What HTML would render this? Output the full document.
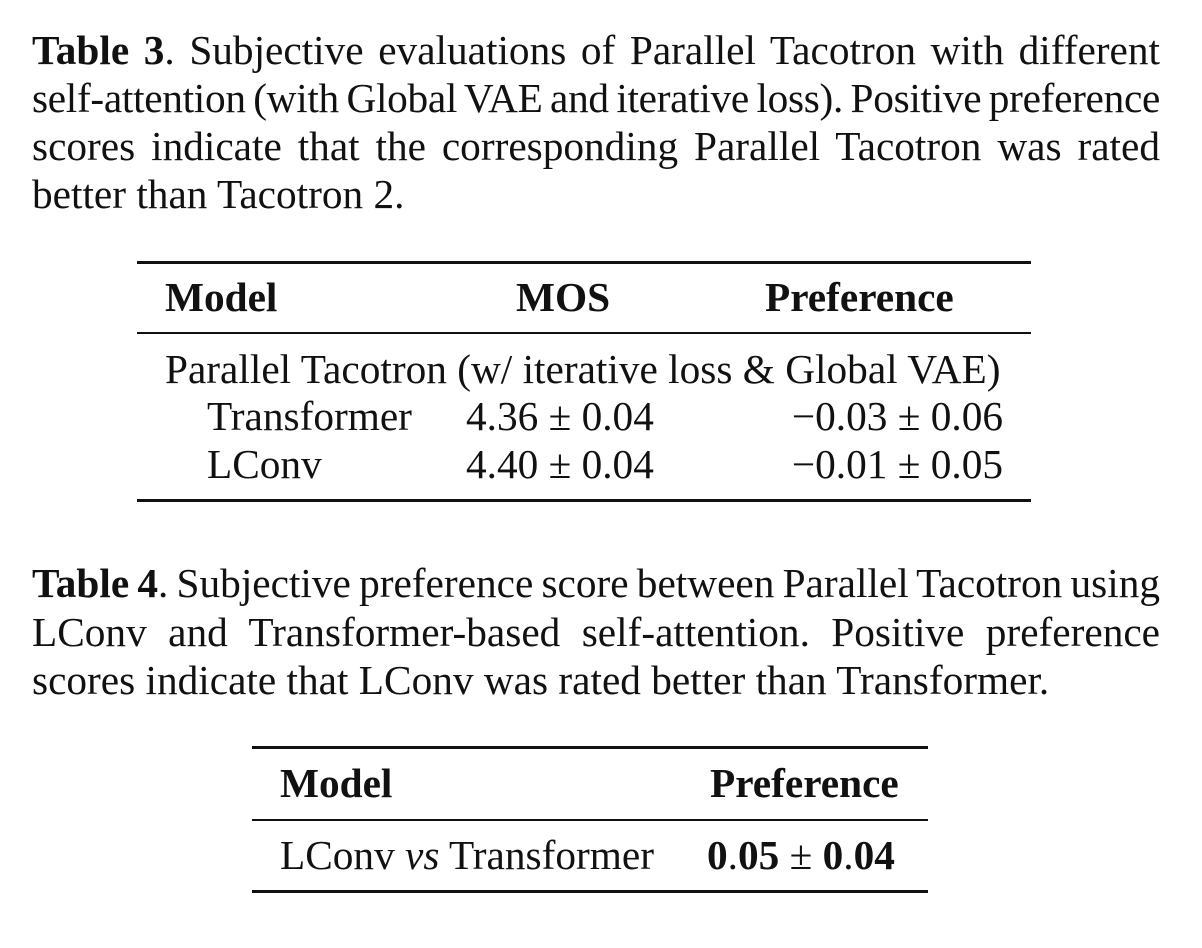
<!DOCTYPE html>
<html><head><meta charset="utf-8"><style>
body{margin:0;width:1202px;height:948px;background:#fff;position:relative;overflow:hidden;font-family:"Liberation Serif",serif;color:#111;font-size:41.3px}
.l{position:absolute;line-height:48px;white-space:nowrap}
.j{position:absolute;left:32px;width:1128px;line-height:48px;text-align:justify;text-align-last:justify;white-space:nowrap;word-spacing:-7px}
.r{position:absolute;background:#111}
b{font-weight:bold}
</style></head><body>
<div>
<div class="j" style="top:26px"><b>Table 3</b>. Subjective evaluations of Parallel Tacotron with different</div>
<div class="j" style="top:74px;letter-spacing:-0.3px">self-attention (with Global VAE and iterative loss). Positive preference</div>
<div class="j" style="top:122px">scores indicate that the corresponding Parallel Tacotron was rated</div>
<div class="l" style="top:170px;left:32px">better than Tacotron 2.</div>
</div>
<div>
<div class="r" style="left:137px;width:894px;top:261px;height:3px"></div>
<div class="l" style="top:273px;left:165px"><b>Model</b></div>
<div class="l" style="top:273px;left:516px"><b>MOS</b></div>
<div class="l" style="top:273px;left:765px"><b>Preference</b></div>
<div class="r" style="left:137px;width:894px;top:332px;height:2px"></div>
<div class="l" style="top:345px;left:165px">Parallel Tacotron (w/ iterative loss &amp; Global VAE)</div>
<div class="l" style="top:392px;left:207px">Transformer</div>
<div class="l" style="top:392px;left:466px">4.36 ± 0.04</div>
<div class="l" style="top:392px;right:199px">−0.03 ± 0.06</div>
<div class="l" style="top:440px;left:207px">LConv</div>
<div class="l" style="top:440px;left:466px">4.40 ± 0.04</div>
<div class="l" style="top:440px;right:199px">−0.01 ± 0.05</div>
<div class="r" style="left:137px;width:894px;top:499px;height:3px"></div>
</div>
<div>
<div class="j" style="top:559px"><b>Table 4</b>. Subjective preference score between Parallel Tacotron using</div>
<div class="j" style="top:608px">LConv and Transformer-based self-attention.  Positive preference</div>
<div class="l" style="top:656px;left:32px">scores indicate that LConv was rated better than Transformer.</div>
</div>
<div>
<div class="r" style="left:252px;width:676px;top:746px;height:3px"></div>
<div class="l" style="top:759px;left:280px"><b>Model</b></div>
<div class="l" style="top:759px;left:710px"><b>Preference</b></div>
<div class="r" style="left:252px;width:676px;top:819px;height:2px"></div>
<div class="l" style="top:831px;left:280px">LConv <i>vs</i> Transformer</div>
<div class="l" style="top:831px;left:707px"><b>0</b>.<b>05</b> ± <b>0</b>.<b>04</b></div>
<div class="r" style="left:252px;width:676px;top:890px;height:3px"></div>
</div>
</body></html>
